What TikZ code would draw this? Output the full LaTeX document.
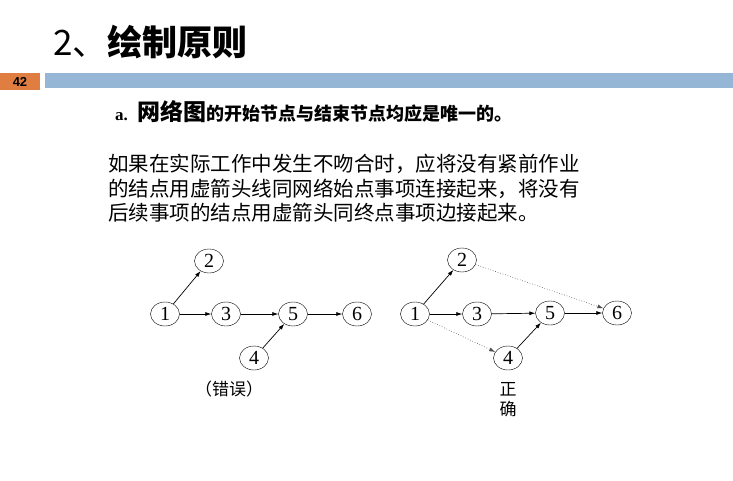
\documentclass[tikz,border=0pt]{standalone}
\usepackage{fontspec}
\setmainfont{Liberation Serif}
\newfontfamily\cjk{Noto Sans CJK SC}
\newfontfamily\numfont{Liberation Sans}
\usepackage{xcolor}
\usetikzlibrary{arrows.meta, shapes.geometric}
\definecolor{barblue}{RGB}{149,183,213}
\definecolor{numorange}{RGB}{223,126,64}

\begin{document}
\begin{tikzpicture}[
    x=1pt, y=-1pt,
    event/.style={draw, ellipse, minimum width=29pt, minimum height=24pt, inner sep=0pt,
                  font=\fontsize{20}{20}\selectfont},
    act/.style={-{Latex[length=6pt, width=4pt]}, line width=0.7pt},
    dummy/.style={-{Latex[length=6pt, width=4pt]}, line width=0.6pt, dotted, black!70},
]
\useasboundingbox (0,0) rectangle (733,480);
\fill[white] (0,0) rectangle (733,480);

% header
\node[anchor=west, font=\cjk\fontsize{35}{35}\selectfont] (title) at (50,42) {2、\textbf{绘制原则}};
\fill[numorange] (0,73) rectangle (40,90);
\node[inner sep=0pt, font=\numfont\bfseries\fontsize{13}{13}\selectfont] (pageno) at (20,81.5) {\textcolor{black}{42}};
\fill[barblue] (45,73) rectangle (733,88);

% rule text
\node[anchor=west, inner sep=0pt] (rule) at (115,112)
    {\bfseries\fontsize{17}{17}\selectfont a.\hspace{10pt}{\cjk\fontsize{23}{23}\selectfont 网络图}{\cjk\fontsize{18}{18}\selectfont 的开始节点与结束节点均应是唯一的。}};
\node[anchor=north west, align=left, inner sep=0pt, font=\cjk\fontsize{20.5}{24.5}\selectfont] (note) at (108,154)
    {如果在实际工作中发生不吻合时，应将没有紧前作业\\
     的结点用虚箭头线同网络始点事项连接起来，将没有\\
     后续事项的结点用虚箭头同终点事项边接起来。};

% wrong network
\node[event] (l1) at (165,314) {1};
\node[event] (l2) at (209,261) {2};
\node[event] (l3) at (226,314) {3};
\node[event] (l5) at (293,314) {5};
\node[event] (l6) at (357,314) {6};
\node[event] (l4) at (254,358) {4};
\draw[act] (l1) -- (l2);
\draw[act] (l1) -- (l3);
\draw[act] (l3) -- (l5);
\draw[act] (l5) -- (l6);
\draw[act] (l4) -- (l5);
\node[font=\cjk\fontsize{17}{17}\selectfont] (wrong) at (229,389) {（错误）};

% right network
\node[event] (r1) at (415,314) {1};
\node[event] (r2) at (462,260) {2};
\node[event] (r3) at (477,314) {3};
\node[event] (r5) at (550,313) {5};
\node[event] (r6) at (617,313) {6};
\node[event] (r4) at (508,358) {4};
\draw[act] (r1) -- (r2);
\draw[act] (r1) -- (r3);
\draw[act] (r3) -- (r5);
\draw[act] (r5) -- (r6);
\draw[act] (r4) -- (r5);
\draw[dummy] (r2) -- (r6);
\draw[dummy] (r1) -- (r4);
\node[align=center, font=\cjk\fontsize{17}{20}\selectfont] (right) at (508,400) {正\\确};

\end{tikzpicture}
\end{document}
